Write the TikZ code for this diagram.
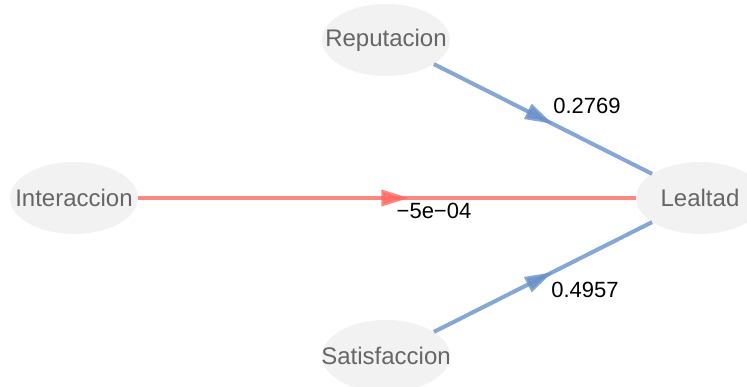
\documentclass[tikz,border=0pt]{standalone}
\usepackage{fontspec}
\setmainfont{Liberation Sans}
\usetikzlibrary{shapes.geometric,arrows.meta,decorations.markings}
\definecolor{nodefill}{HTML}{F2F2F2}
\definecolor{nodetext}{HTML}{666666}
\definecolor{posedge}{RGB}{104,144,201}
\definecolor{negedge}{RGB}{255,105,99}
\tikzset{
  var/.style={ellipse, fill=nodefill, draw=none, minimum width=128pt, minimum height=72pt, inner sep=0pt,
    label={[text=nodetext, font=\fontsize{24}{28}\selectfont, inner sep=0pt]center:#1}},
  pathedge/.style={line width=4pt, draw=#1, draw opacity=0.8,
    postaction={decorate, decoration={markings, mark=at position 0.545 with {\arrow[#1, opacity=0.8]{Triangle[length=28pt,width=16pt]}}}}},
  wlabel/.style={text=black, font=\fontsize{22}{26}\selectfont, inner sep=0pt}
}
\begin{document}
\begin{tikzpicture}[x=1pt,y=-1pt]
\useasboundingbox (0,0) rectangle (747,387);
\node[var=Reputacion] (rep) at (386,40) {};
\node[var=Interaccion] (int) at (74,198) {};
\node[var=Lealtad] (lea) at (700,198) {};
\node[var=Satisfaccion] (sat) at (386,356) {};
\draw[pathedge=posedge] (rep) -- (lea);
\draw[pathedge=negedge] (int) -- (lea);
\draw[pathedge=posedge] (sat) -- (lea);
\node[wlabel] (l1) at (587,106) {0.2769};
\node[wlabel] (l2) at (434,211) {−5e−04};
\node[wlabel] (l3) at (585,290) {0.4957};
\end{tikzpicture}
\end{document}
